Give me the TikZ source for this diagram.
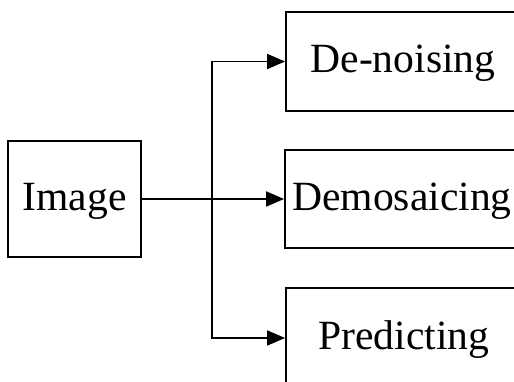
\documentclass[tikz,border=0pt]{standalone}
\usepackage{fontspec}
\setmainfont{Liberation Serif}
\usetikzlibrary{arrows.meta}
\tikzset{
  box/.style={draw, line width=1.8pt, inner sep=0pt, font=\fontsize{41.6}{50}\selectfont},
  conn/.style={line width=1.8pt},
  arr/.style={line width=1.8pt, -{Triangle[length=18pt, width=15pt]}}
}
\begin{document}
\begin{tikzpicture}[x=1pt,y=1pt]
\useasboundingbox (0,0) rectangle (514,382);
\clip (0,0) rectangle (514,382);
\node[box, minimum width=133pt, minimum height=116pt, text depth=5pt] (img) at (74.5,183) {Image};
\node[box, minimum width=234pt, minimum height=99pt, text depth=5pt] (den) at (403,320.5) {De-noising};
\node[box, minimum width=234pt, minimum height=98pt, text depth=5pt] (dem) at (402,183) {Demosaicing};
\node[box, minimum width=236pt, minimum height=100pt, text depth=5pt] (pre) at (404,44) {Predicting};
\coordinate (j) at (212,183);
\draw[conn] (img.east) -- (j);
\draw[arr] (j) -- (dem.west);
\draw[arr] (j) |- (den.west);
\draw[arr] (j) |- (pre.west);
\end{tikzpicture}
\end{document}
